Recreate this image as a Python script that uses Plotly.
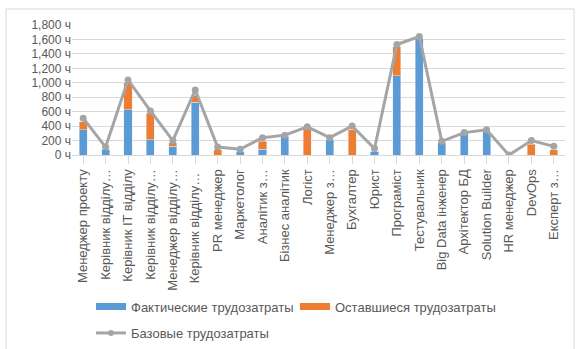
import plotly.graph_objects as go

# Roles (x-axis categories)
roles = [
    "Менеджер проекту", "Керівник відділу…", "Керівник IT відділу", "Керівник відділу…",
    "Менеджер відділу…", "Керівник відділу… ", "PR менеджер", "Маркетолог", "Аналітик з…",
    "Бізнес аналітик", "Логіст", "Менеджер з…", "Бухгалтер", "Юрист", "Програміст",
    "Тестувальник", "Big Data інженер", "Архітектор БД", "Solution Builder", "HR менеджер",
    "DevOps", "Експерт з…",
]
# Hours already spent, hours remaining and planned (baseline) hours
actual_hours = [350, 80, 630, 210, 120, 730, 0, 50, 80, 260, 0, 210, 0, 50, 1100, 1620, 170, 300, 320, 0, 0, 0]
remaining_hours = [110, 0, 370, 370, 50, 100, 70, 0, 110, 0, 370, 0, 350, 0, 400, 0, 0, 0, 0, 0, 150, 70]
baseline_hours = [510, 110, 1040, 610, 200, 900, 110, 80, 240, 275, 390, 240, 400, 90, 1530, 1640, 190, 310, 350, 0, 200, 120]

names = ["Фактические трудозатраты", "Оставшиеся трудозатраты", "Базовые трудозатраты"]
BLUE, ORANGE, GREY = "#5B9BD5", "#ED7D31", "#A5A5A5"
TEXT = "#595959"
FONT = "Liberation Sans"
FS = 13

# unique category keys so repeated (truncated) labels stay separate bars
keys = list(range(len(roles)))

fig = go.Figure()
fig.add_trace(go.Bar(x=keys, y=actual_hours, marker_color=BLUE, name=names[0], showlegend=False))
fig.add_trace(go.Bar(x=keys, y=remaining_hours, marker_color=ORANGE, name=names[1], showlegend=False))
fig.add_trace(go.Scatter(x=keys, y=baseline_hours, mode="lines+markers", name=names[2],
                         line=dict(color=GREY, width=3), marker=dict(color=GREY, size=7),
                         showlegend=False))

# legend entries with wide swatches
fig.add_trace(go.Scatter(x=[None], y=[None], mode="lines", name=names[0],
                         line=dict(color=BLUE, width=7), legend="legend"))
fig.add_trace(go.Scatter(x=[None], y=[None], mode="lines", name=names[1],
                         line=dict(color=ORANGE, width=7), legend="legend2"))
fig.add_trace(go.Scatter(x=[None], y=[None], mode="lines+markers", name=names[2],
                         line=dict(color=GREY, width=3), marker=dict(color=GREY, size=6),
                         legend="legend3"))

W, H = 576, 349
L, R, T, B = 72, 11, 25, 194
pw, ph = W - L - R, H - T - B


def px_x(px):
    return (px - L) / pw


def px_y(py):
    return (H - B - py) / ph


leg_common = dict(xref="container", yref="container", xanchor="left", yanchor="middle",
                  font=dict(family=FONT, size=FS, color=TEXT), bgcolor="rgba(0,0,0,0)",
                  borderwidth=0, orientation="h")

fig.update_layout(
    width=W, height=H,
    margin=dict(l=L, r=R, t=T, b=B),
    paper_bgcolor="white", plot_bgcolor="white",
    barmode="stack", bargap=0.64,
    font=dict(family=FONT, size=FS, color=TEXT),
    legend=dict(x=91 / W, y=1 - 306.5 / H, **leg_common),
    legend2=dict(x=295 / W, y=1 - 306.5 / H, **leg_common),
    legend3=dict(x=91 / W, y=1 - 333 / H, **leg_common),
    xaxis=dict(
        tickmode="array", tickvals=keys, ticktext=roles, tickangle=-90,
        range=[-0.5, len(roles) - 0.5], automargin=False,
        showline=True, linecolor="#D9D9D9", linewidth=1,
        ticks="outside", tickson="boundaries", ticklen=8, tickcolor="#D9D9D9",
        showgrid=False, tickfont=dict(family=FONT, size=FS, color=TEXT),
    ),
    yaxis=dict(
        range=[0, 1800], dtick=200, tickformat=",d", ticksuffix=" ч",
        automargin=False,
        showgrid=True, gridcolor="#D9D9D9", gridwidth=1, zeroline=False,
        tickfont=dict(family=FONT, size=12, color=TEXT),
    ),
    shapes=[dict(type="rect", xref="paper", yref="paper",
                 x0=px_x(6), x1=px_x(574), y0=px_y(360), y1=px_y(9),
                 line=dict(color="#D9D9D9", width=1), layer="below")],
)

fig.write_html("out.html")
